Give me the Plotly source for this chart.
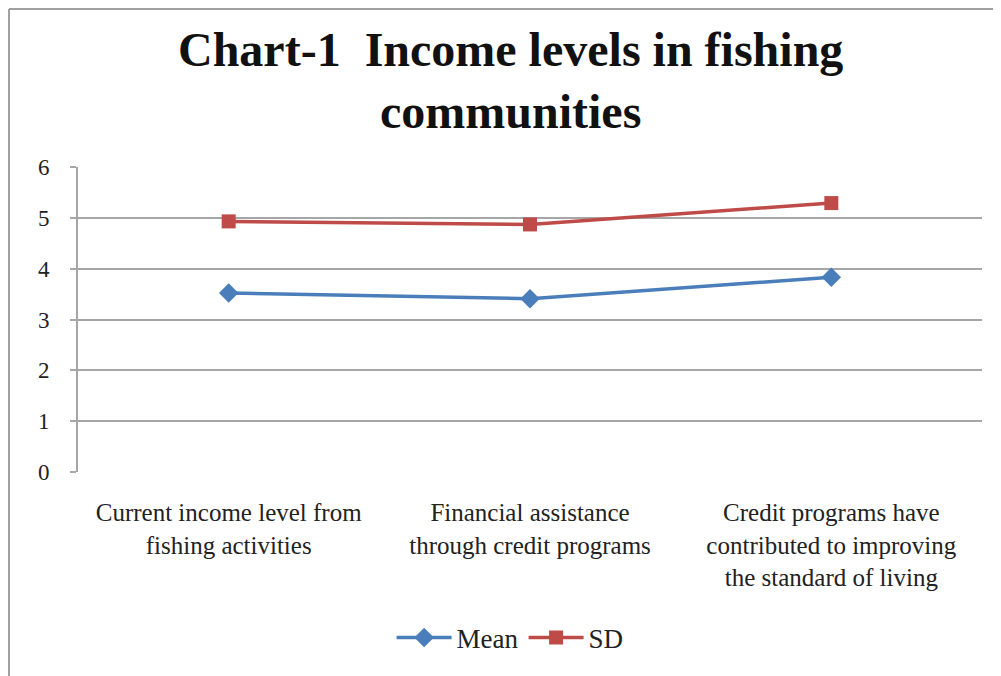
import plotly.graph_objects as go

categories = [
    "Current income level from<br>fishing activities",
    "Financial assistance<br>through credit programs",
    "Credit programs have<br>contributed to improving<br>the standard of living",
]
mean_values = [3.52, 3.41, 3.83]
sd_values = [4.93, 4.87, 5.29]
y_ticks = [0, 1, 2, 3, 4, 5, 6]

FONT = "Liberation Serif"

# page body adds an 8px margin; the figure is sized to fit the window
W, H = 993, 668
L, R, T, B = 70, 19, 159, 204
PW = W - L - R
PH = H - T - B

fig = go.Figure()
fig.add_trace(go.Scatter(
    x=categories, y=mean_values, name="Mean", mode="lines+markers",
    line=dict(color="#4A7EBB", width=3.5),
    marker=dict(symbol="diamond", size=15, color="#4A7EBB"),
))
fig.add_trace(go.Scatter(
    x=categories, y=sd_values, name="SD", mode="lines+markers",
    line=dict(color="#BE4B48", width=3.5),
    marker=dict(symbol="square", size=14, color="#BE4B48"),
))

fig.update_layout(
    width=W, height=H,
    margin=dict(l=L, r=R, t=T, b=B),
    paper_bgcolor="white", plot_bgcolor="white",
    font=dict(family=FONT, color="#222222", size=22),
    showlegend=True,
    legend=dict(
        orientation="h", x=0.478, xanchor="center", y=(464 - 630) / PH, yanchor="middle",
        font=dict(family=FONT, size=27, color="#222222"),
        tracegroupgap=0, itemwidth=55,
    ),
    xaxis=dict(
        type="category", range=[-0.5, 2.5],
        showgrid=False, showline=False, ticks="",
        ticklabelstandoff=23,
        tickfont=dict(family=FONT, size=25, color="#222222"),
    ),
    yaxis=dict(
        range=[0, 6], tickvals=y_ticks, ticktext=[str(v) for v in y_ticks],
        showgrid=True, gridcolor="#A6A6A6", gridwidth=2,
        showline=True, linecolor="#A6A6A6", linewidth=2,
        ticks="outside", ticklen=6, tickcolor="#A6A6A6", tickwidth=2,
        ticklabelstandoff=16,
        tickfont=dict(family=FONT, size=23, color="#222222"),
        zeroline=False,
    ),
    annotations=[dict(
        text="<b>Chart-1\u00a0\u00a0Income levels in fishing<br>communities</b>",
        xref="paper", yref="paper", x=0.478, y=(464 - 73) / PH,
        xanchor="center", yanchor="middle", showarrow=False,
        font=dict(family=FONT, size=48, color="#111111"),
    )],
)

# outer frame (left and top edges of the chart border)
fx = (1 - L) / PW
fy_top = (T + PH - 1) / PH
fy_bot = (T + PH - H) / PH
fig.add_shape(type="line", xref="paper", yref="paper",
              x0=fx, x1=fx, y0=fy_top, y1=fy_bot,
              line=dict(color="#A0A0A0", width=2))
fig.add_shape(type="line", xref="paper", yref="paper",
              x0=fx, x1=(W - L) / PW, y0=fy_top, y1=fy_top,
              line=dict(color="#A0A0A0", width=2))

fig.write_html("out.html")
